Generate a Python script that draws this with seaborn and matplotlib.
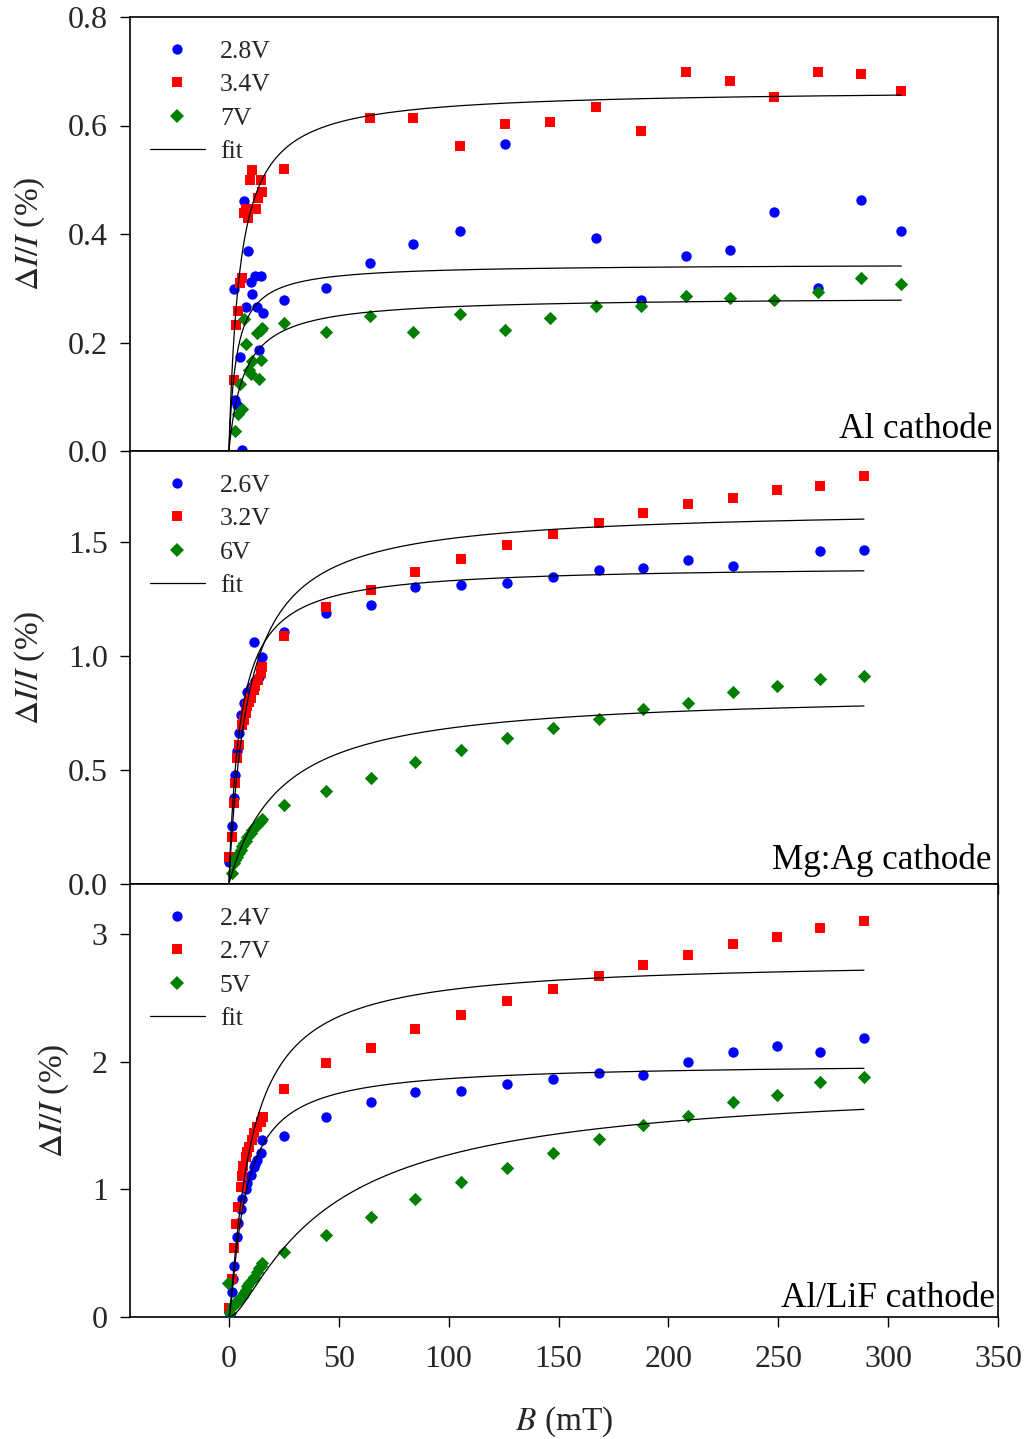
import numpy as np
import pandas as pd
import matplotlib
matplotlib.use("Agg")
import matplotlib.pyplot as plt
import seaborn as sns
from matplotlib.lines import Line2D

# ---------------- data: magnetic field B (mT) and magneto-current dI/I (%) ----------------
# Al cathode
al_B_28 = [2.3, 3.0, 3.5, 5.0, 5.8, 6.8, 8.0, 8.8, 9.9, 10.6, 11.8, 12.6, 13.6, 14.4, 15.5,
           25, 44, 64, 84, 105, 125.5, 167, 187.5, 208, 228, 248, 268, 287.5, 306]
al_dI_28 = [0.298, 0.094, 0.085, 0.173, 0.002, 0.461, 0.266, 0.369, 0.312, 0.289, 0.323, 0.266,
            0.186, 0.323, 0.255,
            0.278, 0.300, 0.347, 0.382, 0.405, 0.566, 0.393, 0.278, 0.359, 0.370, 0.440, 0.300,
            0.463, 0.405]
al_B_34 = [2.1, 3.3, 4.2, 5.0, 5.8, 6.8, 7.6, 8.8, 9.4, 10.6, 12.4, 13.3, 14.4, 15.1,
           25, 64, 84, 105, 125.5, 146, 167, 187.5, 208, 228, 248, 268, 287.5, 306]
al_dI_34 = [0.131, 0.232, 0.258, 0.309, 0.319, 0.438, 0.447, 0.429, 0.500, 0.518, 0.446, 0.466,
            0.500, 0.478,
            0.520, 0.614, 0.614, 0.562, 0.603, 0.606, 0.634, 0.590, 0.699, 0.682, 0.652, 0.699,
            0.695, 0.664]
al_B_7 = [3.0, 4.2, 5.0, 5.8, 6.8, 8.0, 9.1, 9.9, 10.6, 12.9, 13.6, 14.4, 14.6, 15.1,
          25, 44, 64, 84, 105, 125.5, 146, 167, 187.5, 208, 228, 248, 268, 287.5, 306]
al_dI_7 = [0.037, 0.069, 0.123, 0.077, 0.243, 0.197, 0.149, 0.142, 0.165, 0.217, 0.132, 0.168,
           0.223, 0.226,
           0.236, 0.219, 0.249, 0.219, 0.253, 0.223, 0.245, 0.267, 0.267, 0.286, 0.282, 0.278,
           0.293, 0.319, 0.308]

# Mg:Ag cathode
mg_B_26 = [0.0, 1.5, 2.3, 3.0, 3.8, 4.5, 5.3, 6.8, 8.4, 9.9, 11.4, 12.1, 13.6, 14.4, 15.2,
           25, 44, 64.5, 84.5, 105.5, 126.4, 147.3, 168.2, 188.6, 209.1, 229.5, 269.1, 289.1]
mg_dI_26 = [0.098, 0.254, 0.376, 0.478, 0.585, 0.661, 0.741, 0.792, 0.840, 0.865, 1.063, 0.890,
            0.909, 0.960, 0.994,
            1.105, 1.189, 1.224, 1.303, 1.311, 1.320, 1.346, 1.377, 1.386, 1.421, 1.395, 1.461,
            1.465]
mg_B_32 = [0.0, 1.5, 2.3, 3.0, 3.8, 4.8, 5.8, 6.8, 7.6, 8.4, 9.1, 9.9, 11.4, 12.1, 13.3, 14.4,
           15.2,
           25, 44, 64.5, 84.5, 105.5, 126.4, 147.3, 168.2, 188.6, 209.1, 229.5, 249.5, 269.1,
           289.1]
mg_dI_32 = [0.117, 0.208, 0.354, 0.442, 0.551, 0.610, 0.697, 0.720, 0.749, 0.780, 0.800, 0.814,
            0.851, 0.870, 0.895, 0.924, 0.950,
            1.088, 1.215, 1.289, 1.368, 1.425, 1.487, 1.535, 1.585, 1.626, 1.667, 1.692, 1.730,
            1.746, 1.789]
mg_B_6 = [1.2, 2.3, 3.0, 3.8, 4.5, 5.3, 6.0, 6.8, 7.6, 8.4, 9.1, 9.9, 10.6, 11.4, 12.1, 12.9,
          13.6, 14.4, 15.2,
          25, 44, 64.5, 84.5, 105.5, 126.4, 147.3, 168.2, 188.6, 209.1, 229.5, 249.5, 269.1, 289.1]
mg_dI_6 = [0.050, 0.091, 0.105, 0.120, 0.135, 0.149, 0.165, 0.178, 0.190, 0.205, 0.215, 0.225,
           0.235, 0.244, 0.252, 0.260, 0.266, 0.275, 0.284,
           0.346, 0.408, 0.465, 0.535, 0.588, 0.640, 0.686, 0.724, 0.768, 0.794, 0.842, 0.868,
           0.899, 0.912]

# Al/LiF cathode
lif_B_24 = [0.3, 1.2, 1.8, 2.3, 3.5, 4.2, 5.3, 6.0, 7.6, 8.4, 9.9, 11.4, 12.1, 12.9, 14.4, 15.2,
            25, 44, 64.5, 84.5, 105.5, 126.4, 147.3, 168.2, 188.6, 209.1, 229.5, 249.5, 269.1,
            289.1]
lif_dI_24 = [0.016, 0.198, 0.300, 0.399, 0.629, 0.734, 0.843, 0.920, 1.000, 1.050, 1.112, 1.177,
             1.200, 1.229, 1.282, 1.386,
             1.417, 1.566, 1.684, 1.762, 1.770, 1.825, 1.864, 1.911, 1.895, 1.997, 2.075, 2.122,
             2.075, 2.185]
lif_B_27 = [0.0, 1.5, 2.3, 3.3, 4.2, 5.3, 5.8, 6.5, 7.6, 8.4, 9.1, 10.6, 11.4, 12.9, 14.4, 15.5,
            25, 44, 64.5, 84.5, 105.5, 126.4, 147.3, 168.2, 188.6, 209.1, 229.5, 249.5, 269.1,
            289.1]
lif_dI_27 = [0.068, 0.295, 0.538, 0.728, 0.864, 1.020, 1.104, 1.182, 1.255, 1.290, 1.334, 1.386,
             1.438, 1.490, 1.529, 1.569,
             1.785, 1.989, 2.106, 2.255, 2.365, 2.475, 2.569, 2.670, 2.757, 2.835, 2.921, 2.976,
             3.046, 3.101]
lif_B_5 = [-0.3, 0.5, 1.5, 2.3, 3.0, 3.8, 4.5, 5.8, 6.8, 7.6, 8.4, 9.1, 10.6, 11.4, 12.9, 13.6,
           14.4, 15.2,
           25, 44, 64.5, 84.5, 105.5, 126.4, 147.3, 168.2, 188.6, 209.1, 229.5, 249.5, 269.1, 289.1]
lif_dI_5 = [0.264, 0.030, 0.081, 0.100, 0.110, 0.120, 0.140, 0.159, 0.190, 0.211, 0.240, 0.264,
            0.290, 0.316, 0.350, 0.381, 0.400, 0.420,
            0.509, 0.642, 0.783, 0.924, 1.057, 1.167, 1.284, 1.394, 1.503, 1.574, 1.684, 1.738,
            1.840, 1.879]

# Fit parameters, dI/I = A * (|B| / (|B| + B0))^n, one set per bias voltage
al_fit_A = [0.3449, 0.6668, 0.2844]
al_fit_B0 = [3.46, 5.02, 7.04]
al_fit_n = [1.0, 1.0, 1.0]
mg_fit_A = [1.398, 1.650, 0.845]
mg_fit_B0 = [5.14, 8.98, 23.75]
mg_fit_n = [1.0, 1.0, 1.0]
lif_fit_A = [1.992, 2.803, 1.878]
lif_fit_B0 = [3.32, 6.20, 21.6]
lif_fit_n = [2.0, 1.5, 2.0]
al_fit_Bmax = 306
mg_fit_Bmax = 289
lif_fit_Bmax = 289

voltage_labels = [["2.8V", "3.4V", "7V"], ["2.6V", "3.2V", "6V"], ["2.4V", "2.7V", "5V"]]
cathode_labels = ["Al cathode", "Mg:Ag cathode", "Al/LiF cathode"]
x_ticks = [0, 50, 100, 150, 200, 250, 300, 350]
y_ticks = [[0.0, 0.2, 0.4, 0.6, 0.8], [0.0, 0.5, 1.0, 1.5], [0, 1, 2, 3]]
y_ticklabels = [["0.0", "0.2", "0.4", "0.6", "0.8"], ["0.0", "0.5", "1.0", "1.5"],
                ["0", "1", "2", "3"]]
y_limits = [(0, 0.8), (0, 1.899), (0, 3.39)]

# ---------------- styling ----------------
sns.set_theme(style="ticks")
plt.rcParams["font.family"] = ["Liberation Serif", "DejaVu Serif"]
plt.rcParams["mathtext.fontset"] = "stix"

colors = ["#0000ff", "#ff0000", "#008000"]
markers = ["o", "s", "D"]
sizes = [56, 44, 46]

panels = [
    dict(data=[(al_B_28, al_dI_28), (al_B_34, al_dI_34), (al_B_7, al_dI_7)],
         A=al_fit_A, B0=al_fit_B0, n=al_fit_n, bmax=al_fit_Bmax, text_pos=(0.994, 0.030)),
    dict(data=[(mg_B_26, mg_dI_26), (mg_B_32, mg_dI_32), (mg_B_6, mg_dI_6)],
         A=mg_fit_A, B0=mg_fit_B0, n=mg_fit_n, bmax=mg_fit_Bmax, text_pos=(0.993, 0.035)),
    dict(data=[(lif_B_24, lif_dI_24), (lif_B_27, lif_dI_27), (lif_B_5, lif_dI_5)],
         A=lif_fit_A, B0=lif_fit_B0, n=lif_fit_n, bmax=lif_fit_Bmax, text_pos=(0.997, 0.023)),
]

W, H = 1030, 1439
fig = plt.figure(figsize=(W / 100, H / 100), dpi=100)
left, right = 130 / W, 998 / W
edges = [17, 451, 884, 1317]

for i, p in enumerate(panels):
    top_px, bot_px = edges[i], edges[i + 1]
    ax = fig.add_axes([left, 1 - bot_px / H, right - left, (bot_px - top_px) / H])

    for k, (bx, dy) in enumerate(p["data"]):
        df = pd.DataFrame({"B": bx, "dI": dy})
        sns.scatterplot(data=df, x="B", y="dI", ax=ax, color=colors[k], marker=markers[k],
                        s=sizes[k], linewidth=0, legend=False, zorder=3)

    for k in range(3):
        bb = np.linspace(0.0, p["bmax"], 800)
        model = p["A"][k] * (np.abs(bb) / (np.abs(bb) + p["B0"][k])) ** p["n"][k]
        fit_df = pd.DataFrame({"B": bb, "dI": model})
        sns.lineplot(data=fit_df, x="B", y="dI", ax=ax, color="black", linewidth=0.9,
                     estimator=None, sort=False, zorder=4, legend=False)

    ax.set_xlim(-45, 350)
    ax.set_ylim(*y_limits[i])
    ax.set_xticks(x_ticks)
    ax.set_yticks(y_ticks[i])
    ax.set_yticklabels(y_ticklabels[i])
    ax.tick_params(axis="both", direction="out", length=7, width=1.0, color="black",
                   labelsize=23, pad=9)
    ax.tick_params(axis="x", pad=13)
    if i < 2:
        ax.tick_params(axis="x", labelbottom=False)
        ax.set_xlabel("")
    else:
        ax.set_xlabel(r"$B$ (mT)", fontsize=24, labelpad=22)
    ax.set_ylabel(r"$\Delta I/I$ (%)", fontsize=24, labelpad=15)
    for sp in ax.spines.values():
        sp.set_visible(True)
        sp.set_color("black")
        sp.set_linewidth(1.2)

    ax.text(p["text_pos"][0], p["text_pos"][1], cathode_labels[i], transform=ax.transAxes,
            ha="right", va="baseline", fontsize=25.3, color="black")

    handles = [Line2D([], [], linestyle="none", marker=markers[k], color=colors[k],
                      markersize=[7.4, 6.6, 6.8][k], markeredgewidth=0)
               for k in range(3)]
    handles.append(Line2D([], [], color="black", linewidth=0.9))
    ax.legend(handles, voltage_labels[i] + ["fit"], loc="upper left",
              bbox_to_anchor=(-0.007, 1.006), frameon=False, fontsize=18.5,
              handlelength=2.15, handletextpad=0.58, labelspacing=0.4,
              borderaxespad=0.5, borderpad=0.5)

fig.savefig("out.png", dpi=100)
